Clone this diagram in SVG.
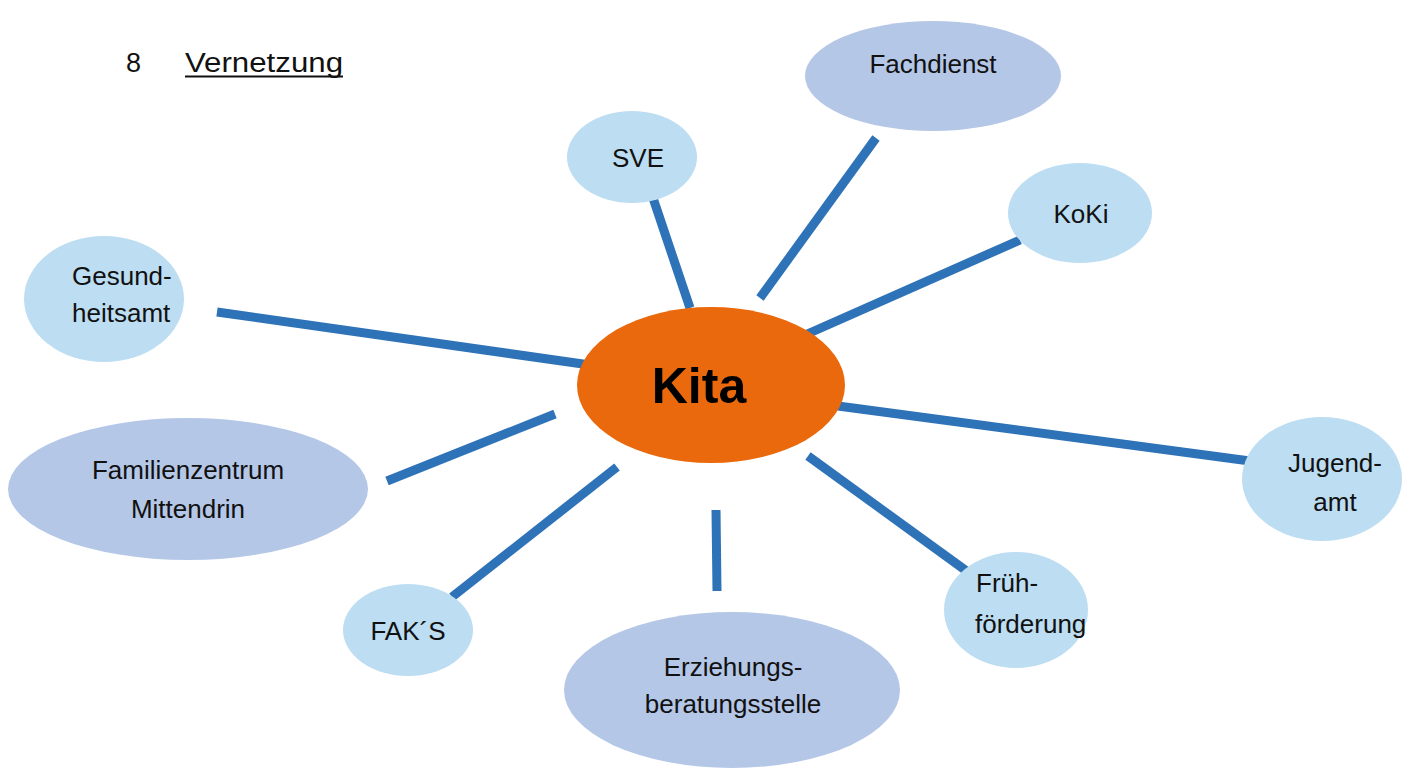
<svg xmlns="http://www.w3.org/2000/svg" width="1424" height="769" viewBox="0 0 1424 769">
<style>
.lb{fill:#BCDDF2}
.db{fill:#B4C7E7}
.t{font-family:"Liberation Sans",Arial,sans-serif;font-size:26px;fill:#111}
.c{text-anchor:middle}
.con line{stroke:#2E72B8;stroke-width:9}
</style>
<rect width="1424" height="769" fill="#fff"/>
<g id="title">
<text x="126" y="72" font-family="Liberation Sans,Arial,sans-serif" font-size="27" fill="#111">8</text>
<text x="185" y="72" font-family="Liberation Sans,Arial,sans-serif" font-size="27" fill="#111" textLength="158" lengthAdjust="spacingAndGlyphs">Vernetzung</text>
<line x1="185" y1="76.5" x2="343" y2="76.5" stroke="#111" stroke-width="2"/>
</g>
<g id="connectors" class="con">
<line x1="653" y1="198" x2="690" y2="308"/>
<line x1="876" y1="138" x2="760" y2="298"/>
<line x1="1020" y1="240" x2="805" y2="335"/>
<line x1="217" y1="312" x2="590" y2="365"/>
<line x1="838" y1="406" x2="1250" y2="461"/>
<line x1="808" y1="456" x2="972" y2="575"/>
<line x1="452" y1="597" x2="617" y2="467"/>
<line x1="716" y1="510" x2="717" y2="591"/>
<line x1="387" y1="481" x2="555" y2="414"/>
</g>
<g id="kita">
<ellipse cx="711" cy="385" rx="134" ry="78" fill="#E9690C"/>
<text x="699" y="403" text-anchor="middle" font-family="Liberation Sans,Arial,sans-serif" font-size="50" font-weight="bold" fill="#000">Kita</text>
</g>
<g id="fachdienst">
<ellipse cx="933" cy="76" rx="128" ry="55" class="db"/>
<text x="933" y="73" class="t c">Fachdienst</text>
</g>
<g id="sve">
<ellipse cx="632" cy="157" rx="65" ry="46" class="lb"/>
<text x="638" y="167" class="t c">SVE</text>
</g>
<g id="koki">
<ellipse cx="1080" cy="213" rx="72" ry="50" class="lb"/>
<text x="1081" y="223" class="t c">KoKi</text>
</g>
<g id="gesundheitsamt">
<ellipse cx="104" cy="299" rx="80" ry="63" class="lb"/>
<text x="72" y="285" class="t">Gesund-</text>
<text x="72" y="322" class="t">heitsamt</text>
</g>
<g id="jugendamt">
<ellipse cx="1322" cy="479" rx="80" ry="62" class="lb"/>
<text x="1335" y="472" class="t c">Jugend-</text>
<text x="1335" y="511" class="t c">amt</text>
</g>
<g id="fruehfoerderung">
<ellipse cx="1016" cy="610" rx="72" ry="58" class="lb"/>
<text x="976" y="592" class="t">Früh-</text>
<text x="975" y="633" class="t">förderung</text>
</g>
<g id="faks">
<ellipse cx="408" cy="630" rx="65" ry="46" class="lb"/>
<text x="408" y="640" class="t c">FAK´S</text>
</g>
<g id="familienzentrum">
<ellipse cx="188" cy="489" rx="180" ry="71" class="db"/>
<text x="188" y="479" class="t c">Familienzentrum</text>
<text x="188" y="518" class="t c">Mittendrin</text>
</g>
<g id="erziehungsberatungsstelle">
<ellipse cx="732" cy="690" rx="168" ry="78" class="db"/>
<text x="733" y="676" class="t c">Erziehungs-</text>
<text x="733" y="713" class="t c">beratungsstelle</text>
</g>
</svg>
